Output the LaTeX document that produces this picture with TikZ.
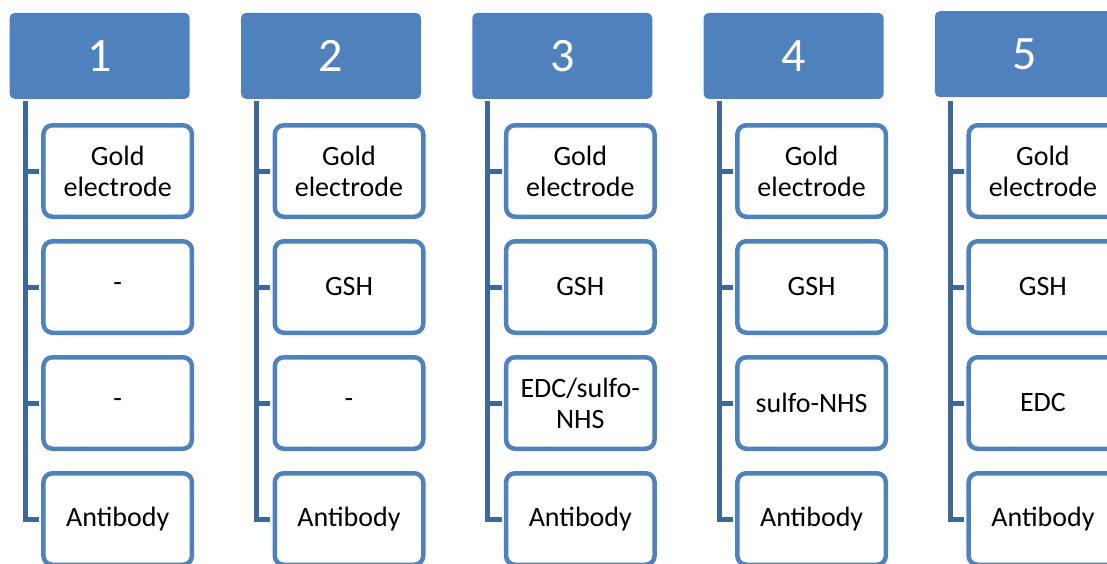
\documentclass[tikz,border=0pt]{standalone}
\usepackage{fontspec}
\setmainfont{Carlito}
\definecolor{hdr}{HTML}{4F81BD}
\definecolor{framecol}{HTML}{4F81BD}
\definecolor{stemcol}{HTML}{3F6899}
\tikzset{
  header/.style={fill=hdr, rounded corners=5pt, minimum width=180pt,
    minimum height=86pt, inner sep=0pt, text=white,
    font=\fontsize{48}{56}\selectfont},
  item/.style={draw=framecol, line width=4.5pt, fill=white, rounded corners=9pt,
    minimum width=148.5pt, minimum height=91.5pt, inner sep=0pt,
    align=center, font=\fontsize{28}{31}\selectfont},
  stem/.style={draw=stemcol, line width=5pt, shorten >=2.25pt}
}
\begin{document}
\begin{tikzpicture}[x=1pt,y=-1pt]
  \useasboundingbox (0,0) rectangle (1107,563);
  \clip (0,0) rectangle (1107,563);
  \foreach \i/\hy/\sa/\sb in {1/55.9/{-}/{-},
                              2/55.9/GSH/{-},
                              3/55.9/GSH/{EDC/sulfo-\\NHS},
                              4/55.9/GSH/sulfo-NHS,
                              5/54.2/GSH/EDC}{
    \pgfmathsetmacro\L{9.7+231.3*(\i-1)}
    % column header
    \node[header] (h\i) at (\L+90,\hy) {\i};
    % stem start just below the header
    \coordinate (t\i) at (\L+15.5,101);
    % list entries
    \node[item] (a\i) at (\L+108,171) {Gold\\electrode};
    \node[item] (b\i) at (\L+108,287) {\sa};
    \node[item] (c\i) at (\L+108,403) {\sb};
    \node[item] (d\i) at (\L+108,519) {Antibody};
    % connectors from the stem to each entry
    \draw[stem] (t\i) |- (d\i.west);
    \draw[stem] (t\i |- a\i.west) -- (a\i.west);
    \draw[stem] (t\i |- b\i.west) -- (b\i.west);
    \draw[stem] (t\i |- c\i.west) -- (c\i.west);
  }
\end{tikzpicture}
\end{document}
